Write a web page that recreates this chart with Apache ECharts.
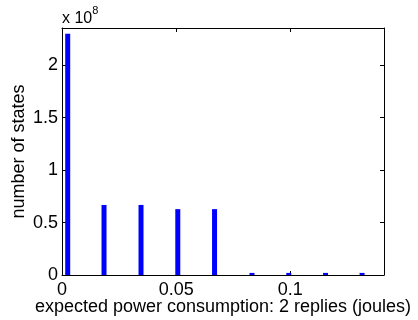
<!DOCTYPE html>
<html>
<head>
<meta charset="utf-8">
<script src="https://cdn.jsdelivr.net/npm/echarts@6/dist/echarts.min.js"></script>
<style>
  html, body { margin: 0; padding: 0; background: #fff; }
  #chart { width: 418px; height: 320px; }
</style>
</head>
<body>
<div id="chart"></div>
<script>
// histogram bin centres (joules) and counts of states
const binCenters = [0.0025, 0.0184, 0.0346, 0.0507, 0.0668, 0.0832, 0.0993, 0.1154, 0.1314];
const stateCounts = [2.30e8, 0.668e8, 0.668e8, 0.628e8, 0.628e8, 0.02e8, 0.02e8, 0.02e8, 0.02e8];

const xTickLabels = ['0', '0.05', '0.1'];
const yTickLabels = ['0', '0.5', '1', '1.5', '2'];

const font = 'Liberation Sans, Arial, sans-serif';

const chart = echarts.init(document.getElementById('chart'));

const boxAxis = {
  axisLine: { show: true, onZero: false, lineStyle: { color: '#000', width: 1 } },
  axisTick: { show: true, inside: true, length: 4, lineStyle: { color: '#000' } },
  splitLine: { show: false },
};

const option = {
  animation: false,
  grid: { left: 62, right: 34, top: 28, bottom: 45, outerBoundsMode: 'none', containLabel: false },
  xAxis: [
    {
      type: 'value',
      min: 0,
      max: 0.141,
      interval: 0.05,
      ...boxAxis,
      axisLabel: {
        showMaxLabel: false,
        margin: 6,
        color: '#000',
        fontSize: 18,
        fontFamily: font,
        formatter: (v) => xTickLabels[Math.round(v / 0.05)] || '',
      },
      name: 'expected power consumption: 2 replies (joules)',
      nameLocation: 'middle',
      nameGap: 23,
      nameMoveOverlap: false,
      nameTextStyle: { color: '#000', fontSize: 18, fontFamily: font },
    },
    {
      type: 'value',
      position: 'top',
      min: 0,
      max: 0.141,
      interval: 0.05,
      ...boxAxis,
      axisLabel: { show: false },
    },
  ],
  yAxis: [
    {
      type: 'value',
      min: 0,
      max: 2.355e8,
      interval: 0.5e8,
      ...boxAxis,
      axisLabel: {
        showMaxLabel: false,
        margin: 4,
        color: '#000',
        fontSize: 18,
        fontFamily: font,
        formatter: (v) => yTickLabels[Math.round(v / 0.5e8)] || '',
      },
      name: 'number of states',
      nameLocation: 'middle',
      nameGap: 34,
      nameMoveOverlap: false,
      nameTextStyle: { color: '#000', fontSize: 18, fontFamily: font },
    },
    {
      type: 'value',
      position: 'right',
      min: 0,
      max: 2.355e8,
      interval: 0.5e8,
      ...boxAxis,
      axisLabel: { show: false },
    },
  ],
  graphic: [
    {
      type: 'text',
      left: 62,
      top: 5,
      style: {
        text: '{b|x 10}{s|8}',
        rich: {
          b: { fontSize: 16, fontFamily: font, fill: '#000', verticalAlign: 'bottom', lineHeight: 22 },
          s: { fontSize: 11, fontFamily: font, fill: '#000', verticalAlign: 'top', lineHeight: 22 },
        },
      },
    },
  ],
  series: [
    {
      type: 'bar',
      xAxisIndex: 0,
      yAxisIndex: 0,
      barWidth: 5,
      itemStyle: { color: '#0000ff' },
      data: binCenters.map((x, i) => [x, stateCounts[i]]),
    },
  ],
};

chart.setOption(option);
</script>
</body>
</html>
